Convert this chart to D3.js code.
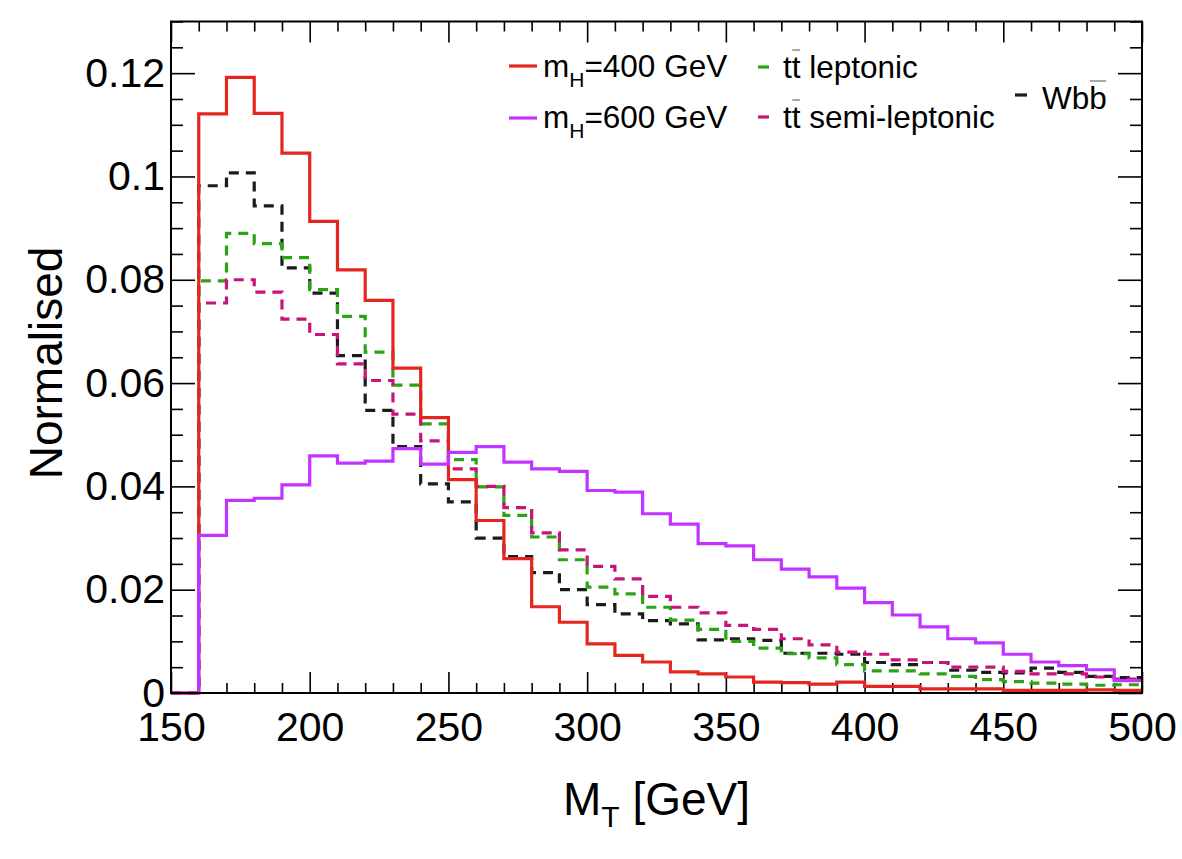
<!DOCTYPE html>
<html>
<head>
<meta charset="utf-8">
<script src="https://cdn.jsdelivr.net/npm/d3@7"></script>
<style>
  body { margin: 0; background: #fff; }
  svg { font-family: "Liberation Sans", Arial, Helvetica, sans-serif; }
</style>
</head>
<body>
<div id="chart"></div>
<script>
// lower edges of the 10 GeV bins (last edge 500 closes the histogram)
const binLow = [150, 160, 170, 180, 190, 200, 210, 220, 230, 240, 250, 260, 270, 280, 290, 300, 310,
  320, 330, 340, 350, 360, 370, 380, 390, 400, 410, 420, 430, 440, 450, 460, 470, 480, 490];
const binHigh = 500;

const mH400 = [0, 0.1121, 0.1192, 0.1122, 0.1045, 0.0913, 0.0819, 0.0760, 0.0629, 0.0533, 0.0413, 0.0334,
  0.0260, 0.0167, 0.0137, 0.0095, 0.0073, 0.0060, 0.0041, 0.0037, 0.0031, 0.0021, 0.0020, 0.0017, 0.0021,
  0.0013, 0.0013, 0.0008, 0.0008, 0.0008, 0.0005, 0.0005, 0.0005, 0.0006, 0.0005];
const mH600 = [0, 0.0305, 0.0373, 0.0377, 0.0403, 0.0459, 0.0445, 0.0449, 0.0473, 0.0443, 0.0466, 0.0477,
  0.0447, 0.0434, 0.0429, 0.0392, 0.0389, 0.0347, 0.0327, 0.0289, 0.0285, 0.0258, 0.0240, 0.0225, 0.0203,
  0.0175, 0.0151, 0.0128, 0.0105, 0.0097, 0.0075, 0.0060, 0.0053, 0.0045, 0.0024];
const ttLep = [0, 0.0798, 0.0890, 0.0870, 0.0843, 0.0781, 0.0729, 0.0660, 0.0596, 0.0521, 0.0452, 0.0399,
  0.0344, 0.0302, 0.0258, 0.0205, 0.0192, 0.0166, 0.0141, 0.0123, 0.0100, 0.0087, 0.0076, 0.0068, 0.0055,
  0.0043, 0.0043, 0.0037, 0.0032, 0.0026, 0.0022, 0.0019, 0.0017, 0.0015, 0.0016];
const ttSemi = [0, 0.0755, 0.0800, 0.0776, 0.0724, 0.0694, 0.0637, 0.0605, 0.0540, 0.0488, 0.0434, 0.0400,
  0.0359, 0.0310, 0.0277, 0.0245, 0.0221, 0.0187, 0.0166, 0.0155, 0.0131, 0.0123, 0.0105, 0.0093, 0.0079,
  0.0075, 0.0064, 0.0059, 0.0050, 0.0050, 0.0042, 0.0037, 0.0037, 0.0031, 0.0027];
const wbb = [0, 0.0982, 0.1007, 0.0943, 0.0823, 0.0774, 0.0653, 0.0547, 0.0477, 0.0405, 0.0370, 0.0300,
  0.0264, 0.0233, 0.0200, 0.0171, 0.0153, 0.0140, 0.0134, 0.0103, 0.0105, 0.0102, 0.0077, 0.0077, 0.0075,
  0.0059, 0.0055, 0.0059, 0.0044, 0.0040, 0.0039, 0.0048, 0.0040, 0.0032, 0.0030];

const xTicks = [150, 200, 250, 300, 350, 400, 450, 500];
const yTicks = [0, 0.02, 0.04, 0.06, 0.08, 0.1, 0.12];
const yTickLabels = ["0", "0.02", "0.04", "0.06", "0.08", "0.1", "0.12"];

const W = 1182, H = 859;
const plotL = 171, plotR = 1142, plotT = 21.5, plotB = 693;

const svg = d3.select("#chart").append("svg")
  .attr("width", W)
  .attr("height", H);

const x = d3.scaleLinear().domain([150, 500]).range([plotL, plotR]);
const y = d3.scaleLinear().domain([0, 0.13]).range([plotB, plotT]);

// minor ticks
const xMinor = d3.range(150, 501, 10).filter(v => v % 50 !== 0);
const yMinor = d3.range(0, 0.1301, 0.005).filter(v => Math.abs(v / 0.02 - Math.round(v / 0.02)) > 1e-6);

function styleAxis(g) {
  g.select(".domain").remove();
  g.selectAll(".tick line").attr("stroke", "#000").attr("stroke-width", 1.6);
  g.selectAll("text").attr("fill", "#000").attr("font-size", 41)
    .attr("font-family", "'Liberation Sans', Arial, sans-serif");
}

// bottom axis
svg.append("g").attr("transform", `translate(0,${plotB})`)
  .call(d3.axisBottom(x).tickValues(xTicks).tickSize(-21).tickPadding(19).tickFormat(d3.format("d")))
  .call(styleAxis);
svg.append("g").attr("transform", `translate(0,${plotB})`)
  .call(d3.axisBottom(x).tickValues(xMinor).tickSize(-10).tickFormat(""))
  .call(styleAxis);
// top axis
svg.append("g").attr("transform", `translate(0,${plotT})`)
  .call(d3.axisTop(x).tickValues(xTicks).tickSize(-21).tickFormat(""))
  .call(styleAxis);
svg.append("g").attr("transform", `translate(0,${plotT})`)
  .call(d3.axisTop(x).tickValues(xMinor).tickSize(-10).tickFormat(""))
  .call(styleAxis);
// left axis
svg.append("g").attr("transform", `translate(${plotL},0)`)
  .call(d3.axisLeft(y).tickValues(yTicks).tickSize(-24).tickPadding(6)
    .tickFormat((d, i) => yTickLabels[i]))
  .call(styleAxis);
svg.append("g").attr("transform", `translate(${plotL},0)`)
  .call(d3.axisLeft(y).tickValues(yMinor).tickSize(-12).tickFormat(""))
  .call(styleAxis);
// right axis
svg.append("g").attr("transform", `translate(${plotR},0)`)
  .call(d3.axisRight(y).tickValues(yTicks).tickSize(-24).tickFormat(""))
  .call(styleAxis);
svg.append("g").attr("transform", `translate(${plotR},0)`)
  .call(d3.axisRight(y).tickValues(yMinor).tickSize(-12).tickFormat(""))
  .call(styleAxis);

// histograms
const series = [
  { values: wbb, color: "#1c1c1c", dash: "10,7" },
  { values: ttLep, color: "#2ba315", dash: "10,7" },
  { values: ttSemi, color: "#c8137a", dash: "10,7" },
  { values: mH400, color: "#e3261f", dash: null },
  { values: mH600, color: "#c333ff", dash: null }
];

const step = d3.line()
  .x(d => x(d[0]))
  .y(d => y(d[1]))
  .curve(d3.curveStepAfter);

series.forEach(s => {
  const pts = binLow.map((b, i) => [b, s.values[i]]);
  pts.push([binHigh, s.values[s.values.length - 1]]);
  svg.append("path")
    .datum(pts)
    .attr("d", step)
    .attr("fill", "none")
    .attr("stroke", s.color)
    .attr("stroke-width", 3.2)
    .attr("stroke-dasharray", s.dash);
});

// frame
svg.append("rect")
  .attr("x", plotL).attr("y", plotT)
  .attr("width", plotR - plotL).attr("height", plotB - plotT)
  .attr("fill", "none").attr("stroke", "#000").attr("stroke-width", 2);

// legend
const legend = svg.append("g").attr("font-size", 31.5).attr("fill", "#000");

function subText(xp, yp, main, sub, rest) {
  const t = legend.append("text").attr("x", xp).attr("y", yp);
  t.append("tspan").text(main);
  t.append("tspan").attr("font-size", 21).attr("dy", 10).text(sub);
  t.append("tspan").attr("dy", -10).text(rest);
}

// text with an overbar on one character
function barText(xp, yp, str, barIdx) {
  const t = legend.append("text").attr("x", xp).attr("y", yp).text(str);
  const box = t.node().getExtentOfChar(barIdx);
  legend.append("line")
    .attr("x1", box.x + 0.5).attr("x2", box.x + box.width - 0.5)
    .attr("y1", yp - 28).attr("y2", yp - 28)
    .attr("stroke", "#8c8c8c").attr("stroke-width", 1.5);
}

legend.append("line").attr("x1", 509).attr("x2", 537).attr("y1", 66).attr("y2", 66)
  .attr("stroke", "#e3261f").attr("stroke-width", 3.2);
subText(543, 77, "m", "H", "=400 GeV");
legend.append("line").attr("x1", 509).attr("x2", 537).attr("y1", 118).attr("y2", 118)
  .attr("stroke", "#c333ff").attr("stroke-width", 3.2);
subText(543, 128, "m", "H", "=600 GeV");

legend.append("line").attr("x1", 758).attr("x2", 769).attr("y1", 67).attr("y2", 67)
  .attr("stroke", "#2ba315").attr("stroke-width", 3.2);
barText(783, 78, "tt leptonic", 1);
legend.append("line").attr("x1", 758).attr("x2", 769).attr("y1", 117).attr("y2", 117)
  .attr("stroke", "#c8137a").attr("stroke-width", 3.2);
barText(783, 128, "tt semi-leptonic", 1);

legend.append("line").attr("x1", 1015).attr("x2", 1027).attr("y1", 95).attr("y2", 95)
  .attr("stroke", "#1c1c1c").attr("stroke-width", 3.2);
barText(1042, 109, "Wbb", 2);

// axis titles
const xt = svg.append("text")
  .attr("x", (plotL + plotR) / 2).attr("y", 815)
  .attr("text-anchor", "middle").attr("font-size", 46);
xt.append("tspan").text("M");
xt.append("tspan").attr("font-size", 30).attr("dy", 12).text("T");
xt.append("tspan").attr("dy", -12).text(" [GeV]");

svg.append("text")
  .attr("transform", "translate(62,363) rotate(-90)")
  .attr("text-anchor", "middle").attr("font-size", 46)
  .text("Normalised");
</script>
</body>
</html>
